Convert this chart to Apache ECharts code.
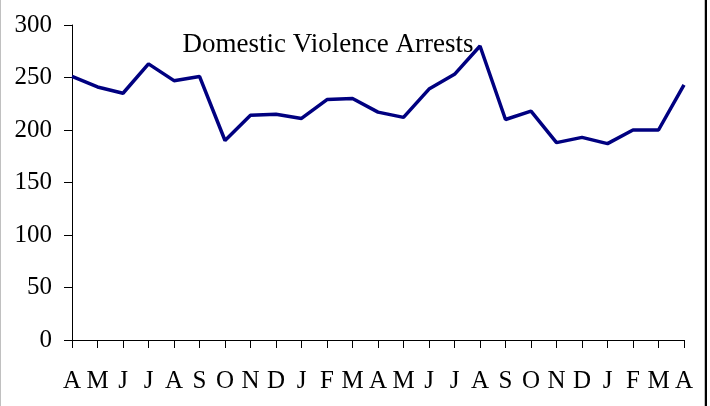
<!DOCTYPE html>
<html>
<head>
<meta charset="utf-8">
<script src="https://cdn.jsdelivr.net/npm/echarts@6/dist/echarts.min.js"></script>
<style>html,body{margin:0;padding:0;background:#fff}#c{width:710px;height:406px}</style>
</head>
<body>
<div id="c"></div>
<script>
const months = ['A','M','J','J','A','S','O','N','D','J','F','M','A','M','J','J','A','S','O','N','D','J','F','M','A'];
const arrests = [251,241,235,263,247,251,190,214,215,211,229,230,217,212,239,253,280,210,218,188,193,187,200,200,243];
const yTicks = {min:0, max:300, interval:50};
const titleText = 'Domestic Violence Arrests';

const chart = echarts.init(document.getElementById('c'), null, {renderer:'canvas'});
const font = '"Liberation Serif", "Times New Roman", serif';
chart.setOption({
  animation:false,
  backgroundColor:'#fff',
  title:{text:titleText, left:323, top:26, textAlign:'center',
    textStyle:{fontFamily:font, fontWeight:'normal', fontSize:27, color:'#000'}},
  grid:{left:72, right:26, top:25, bottom:66, containLabel:false},
  xAxis:{type:'category', data:months, boundaryGap:false,
    axisLine:{lineStyle:{color:'#000', width:1}},
    axisTick:{show:true, length:8, inside:false, lineStyle:{color:'#000'}},
    axisLabel:{interval:0, margin:29, fontFamily:font, fontSize:25, color:'#000'},
    splitLine:{show:false}},
  yAxis:{type:'value', min:yTicks.min, max:yTicks.max, interval:yTicks.interval,
    axisLine:{show:true, lineStyle:{color:'#000', width:1}},
    axisTick:{show:true, length:8, lineStyle:{color:'#000'}},
    axisLabel:{margin:20, fontFamily:font, fontSize:25, color:'#000'},
    splitLine:{show:false}},
  series:[{type:'line', data:arrests, showSymbol:false, symbol:'none',
    lineStyle:{color:'#000080', width:3.5}, itemStyle:{color:'#000080'}}],
  graphic:[
    {type:'rect', shape:{x:0,y:0,width:1,height:406}, style:{fill:'#c0c0c0'}, silent:true},
    {type:'rect', shape:{x:704,y:0,width:1,height:406}, style:{fill:'#c0c0c0'}, silent:true},
    {type:'rect', shape:{x:705,y:0,width:2,height:406}, style:{fill:'#000'}, silent:true}
  ]
});
</script>
</body>
</html>
